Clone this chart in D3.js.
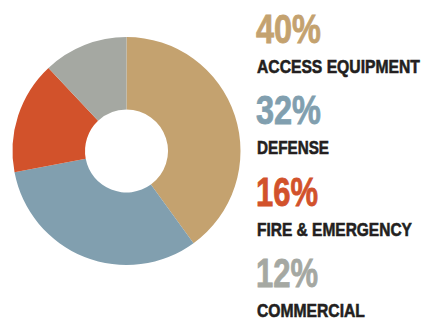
<!DOCTYPE html>
<html>
<head>
<meta charset="utf-8">
<script src="https://cdn.jsdelivr.net/npm/d3@7"></script>
<style>
  body { margin: 0; background: #fff; }
  svg { display: block; }
</style>
</head>
<body>
<div id="chart"></div>
<script>
// Segment data
const categories = ['ACCESS EQUIPMENT', 'DEFENSE', 'FIRE & EMERGENCY', 'COMMERCIAL'];
const shares = [40, 32, 16, 12];
const colors = ['#c4a26f', '#819faf', '#d2522b', '#a5a8a2'];

const width = 423, height = 320;

const svg = d3.select('#chart')
    .append('svg')
    .attr('width', width)
    .attr('height', height);

const pie = d3.pie().sort(null).value(d => d);
const arc = d3.arc().innerRadius(41.5).outerRadius(114);

const g = svg.append('g')
    .attr('transform', 'translate(126.5,151)');

g.selectAll('path')
    .data(pie(shares))
    .enter()
    .append('path')
    .attr('d', arc)
    .attr('fill', (d, i) => colors[i]);

// Legend: big percent + label, squeezed horizontally to look condensed
const pctWidths = [65, 65, 62, 62];
const labelWidths = [163, 72, 155, 108];
const rowY = d3.scaleLinear().domain([0, 3]).range([43, 287]);
const fontFamily = '"Liberation Sans", Arial, sans-serif';

function squeezed(parent, x, y, txt, size, color, targetW, stroke) {
    const wrap = parent.append('g');
    const t = wrap.append('text')
        .attr('x', 0)
        .attr('y', 0)
        .attr('fill', color)
        .style('font-family', fontFamily)
        .style('font-weight', 'bold')
        .style('font-size', size + 'px')
        .text(txt);
    if (stroke) t.attr('stroke', color).attr('stroke-width', stroke);
    const w = t.node().getComputedTextLength();
    wrap.attr('transform', `translate(${x},${y}) scale(${targetW / w},1)`);
}

const legend = svg.append('g').attr('transform', 'translate(256,0)');

categories.forEach((c, i) => {
    const y = rowY(i);
    squeezed(legend, 0, y, shares[i] + '%', 40, colors[i], pctWidths[i], 0.8);
    squeezed(legend, 1, y + 30, c, 19, '#231f20', labelWidths[i], 0.6);
});
</script>
</body>
</html>
